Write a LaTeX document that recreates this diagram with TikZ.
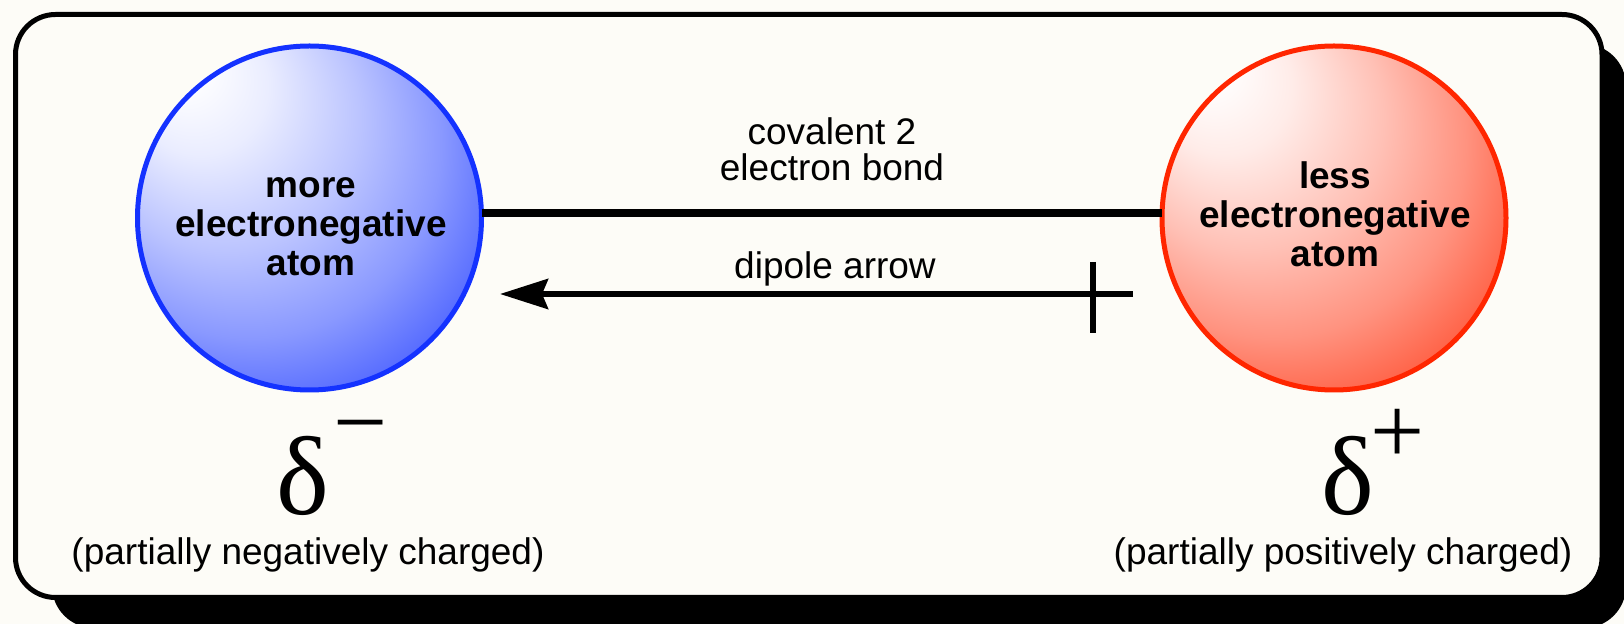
\documentclass[tikz,border=0pt]{standalone}
\usepackage{fontspec}
\setmainfont{Liberation Sans}
\newfontfamily\deltafont{Liberation Serif}
\usetikzlibrary{arrows.meta}
\definecolor{bgcream}{RGB}{253,252,247}
\definecolor{atomblue}{RGB}{20,50,255}
\definecolor{atomred}{RGB}{255,38,0}
\pgfdeclareradialshading{blueball}{\pgfpoint{-20bp}{24bp}}{color(0bp)=(white); color(3bp)=(white); color(10bp)=(atomblue!9!white); color(19.5bp)=(atomblue!29!white); color(28bp)=(atomblue!50!white); color(35bp)=(atomblue!73!white); color(42bp)=(atomblue!90!white); color(46bp)=(atomblue); color(50bp)=(atomblue)}
\pgfdeclareradialshading{redball}{\pgfpoint{-20bp}{24bp}}{color(0bp)=(white); color(3bp)=(white); color(10bp)=(atomred!9!white); color(19.5bp)=(atomred!29!white); color(28bp)=(atomred!50!white); color(35bp)=(atomred!73!white); color(42bp)=(atomred!90!white); color(46bp)=(atomred); color(50bp)=(atomred)}
\begin{document}
\begin{tikzpicture}[x=0.5pt,y=-0.5pt,
  every node/.style={inner sep=0pt,outer sep=0pt},
  atomball/.style={circle,minimum size=172pt,line width=2.5pt},
  atomtext/.style={align=center,font=\fontsize{18.5pt}{19.5pt}\selectfont\bfseries},
  plainlabel/.style={align=center,font=\fontsize{18.5pt}{18pt}\selectfont},
  deltasym/.style={font=\deltafont\fontsize{56pt}{60pt}\selectfont},
  chargesign/.style={font=\deltafont\fontsize{48pt}{50pt}\selectfont},
  bondline/.style={line width=4pt},
  dipoleline/.style={line width=3pt,-{Stealth[length=24pt,width=15pt,inset=3pt]}},
  crossbar/.style={line width=3pt}]
\useasboundingbox (0,0) rectangle (1624,624);
\clip (0,0) rectangle (1624,624);
\fill[bgcream] (0,0) rectangle (1624,624);
% shadow and frame
\fill[black,rounded corners=21pt] (52,44) rectangle (1626,628);
\draw[line width=2.5pt,fill=bgcream,rounded corners=20pt] (15.5,14.5) rectangle (1602,597.5);
% atoms
\node[atomball,shading=blueball,draw=atomblue] (blue) at (309.5,218) {};
\node[atomball,shading=redball,draw=atomred] (red) at (1334,218) {};
\node[atomtext] (bluetext) at (311,227) {more\\electronegative\\atom};
\node[atomtext] (redtext) at (1335,214) {less\\electronegative\\atom};
% bond
\coordinate (bondy) at (0,213);
\draw[bondline] (blue.east |- bondy) -- (red.west |- bondy);
\node[plainlabel] (bondlabel) at (832,149.5) {covalent 2\\electron bond};
% dipole arrow
\coordinate (dipoletail) at (1133,294);
\coordinate (dipoletip) at (500,294);
\coordinate (crosstop) at (1093,262);
\coordinate (crossbottom) at (1093,333);
\draw[dipoleline] (dipoletail) -- (dipoletip);
\draw[crossbar] (crosstop) -- (crossbottom);
\node[plainlabel,anchor=base] (dipolelabel) at (835,279) {dipole arrow};
% partial charges
\node[deltasym,anchor=base] (dminus) at (303,515) {δ};
\node[chargesign] (minussign) at (361,437) {−};
\node[deltasym,anchor=base] (dplus) at (1348,515) {δ};
\node[chargesign] (plussign) at (1398,436) {+};
\node[plainlabel,anchor=base] (neglabel) at (308,565) {(partially negatively charged)};
\node[plainlabel,anchor=base] (poslabel) at (1343,565) {(partially positively charged)};
\end{tikzpicture}
\end{document}
